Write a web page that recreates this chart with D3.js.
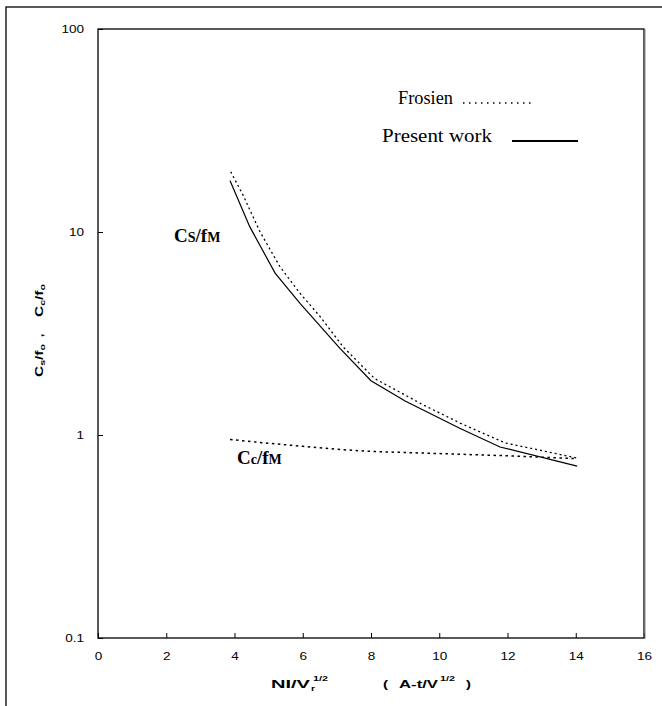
<!DOCTYPE html>
<html>
<head>
<meta charset="utf-8">
<script src="https://cdn.jsdelivr.net/npm/d3@7"></script>
<style>
  html, body { margin: 0; padding: 0; background: #fff; }
  svg { display: block; }
</style>
</head>
<body>
<svg id="chart" width="662" height="706"></svg>
<script>
// ---- data ----
const xTicks = [0, 2, 4, 6, 8, 10, 12, 14, 16];
const yTicks = [0.1, 1, 10, 100];
const yTickLabels = ["0.1", "1", "10", "100"];

// Present work, Cs/fM (solid)
const presentX = [3.87, 4.45, 5.19, 5.92, 7.09, 8.0, 9.0, 10.6, 11.78, 14.04];
const presentY = [17.9, 10.6, 6.27, 4.45, 2.67, 1.85, 1.47, 1.08, 0.873, 0.703];

// Frosien, Cs/fM (dotted)
const frosienSX = [3.89, 4.25, 4.75, 5.33, 5.92, 6.51, 7.18, 8.1, 9.52, 10.61, 11.93, 14.04];
const frosienSY = [19.8, 15.2, 10.0, 6.75, 4.99, 3.83, 2.72, 1.9, 1.41, 1.145, 0.914, 0.77];

// Frosien, Cc/fM (dotted)
const frosienCX = [3.87, 5.0, 6.0, 7.0, 8.0, 10.0, 12.0, 14.04];
const frosienCY = [0.95, 0.91, 0.88, 0.85, 0.83, 0.81, 0.79, 0.765];

const legendLabels = ["Frosien", "Present work"];

// ---- drawing ----
const svg = d3.select("#chart");
const L = 98, R = 644, T = 29, B = 638;
const STRETCH = 1.23;

const x = d3.scaleLinear().domain([0, 16]).range([L, R]);
const y = d3.scaleLog().domain([0.1, 100]).range([B, T]);

// outer frame (extends past the canvas on the right/bottom)
svg.append("rect").attr("x", 6).attr("y", 7).attr("width", 720).attr("height", 740)
  .attr("fill", "none").attr("stroke", "#000").attr("stroke-width", 1.3);

// axes
const xAxis = d3.axisBottom(x).tickValues(xTicks).tickFormat(d3.format("d"))
  .tickSizeInner(-5).tickSizeOuter(0).tickPadding(14);
const yAxis = d3.axisLeft(y).tickValues(yTicks)
  .tickFormat((d, i) => yTickLabels[i])
  .tickSizeInner(-5).tickSizeOuter(0).tickPadding(15);

const gx = svg.append("g").attr("transform", `translate(0,${B})`).call(xAxis);
const gy = svg.append("g").attr("transform", `translate(${L},0)`).call(yAxis);
[gx, gy].forEach(g => {
  g.select(".domain").remove();
  g.selectAll("text").attr("font-family", "Arial, 'Liberation Sans', sans-serif")
    .attr("font-size", 11).attr("fill", "#000")
    .attr("transform", `scale(${STRETCH},1)`);
  g.selectAll("line").attr("stroke", "#000").attr("stroke-width", 1);
});
gy.selectAll("text").attr("x", -14 / STRETCH);

// plot box
svg.append("rect").attr("x", L).attr("y", T).attr("width", R - L).attr("height", B - T)
  .attr("fill", "none").attr("stroke", "#000").attr("stroke-width", 1.3);
svg.append("line").attr("x1", R + 1).attr("x2", R + 1).attr("y1", T).attr("y2", B + 1)
  .attr("stroke", "#888").attr("stroke-width", 1);

// lines
const line = d3.line().x(d => x(d[0])).y(d => y(d[1]));
const zip = (a, b) => a.map((v, i) => [v, b[i]]);

svg.append("path").datum(zip(frosienSX, frosienSY)).attr("d", line)
  .attr("fill", "none").attr("stroke", "#000").attr("stroke-width", 1.3)
  .attr("stroke-dasharray", "2,3");
svg.append("path").datum(zip(frosienCX, frosienCY)).attr("d", line)
  .attr("fill", "none").attr("stroke", "#000").attr("stroke-width", 1.5)
  .attr("stroke-dasharray", "2.5,3.5");
svg.append("path").datum(zip(presentX, presentY)).attr("d", line)
  .attr("fill", "none").attr("stroke", "#000").attr("stroke-width", 1.2);

// legend
const serif = "'Times New Roman', 'Liberation Serif', serif";
svg.append("text").attr("x", 398).attr("y", 104).attr("font-family", serif)
  .attr("font-size", 19).attr("textLength", 55).attr("lengthAdjust", "spacingAndGlyphs")
  .text(legendLabels[0]);
svg.append("line").attr("x1", 463).attr("x2", 531).attr("y1", 103).attr("y2", 103)
  .attr("stroke", "#000").attr("stroke-width", 1.5).attr("stroke-dasharray", "1.5,4.5");
svg.append("text").attr("x", 382).attr("y", 142).attr("font-family", serif)
  .attr("font-size", 19).attr("textLength", 110).attr("lengthAdjust", "spacingAndGlyphs")
  .text(legendLabels[1]);
svg.append("line").attr("x1", 512).attr("x2", 578).attr("y1", 141).attr("y2", 141)
  .attr("stroke", "#000").attr("stroke-width", 2);

// curve labels
function subLabel(xp, yp, parts) {
  const t = svg.append("text").attr("x", xp).attr("y", yp)
    .attr("font-family", serif).attr("font-weight", "bold");
  parts.forEach(p => {
    t.append("tspan").attr("font-size", p.sub ? 14 : 19).text(p.t);
  });
  return t;
}
subLabel(174, 242, [{t: "C"}, {t: "S", sub: true}, {t: "/f"}, {t: "M", sub: true}]);
subLabel(237, 464, [{t: "C"}, {t: "c", sub: true}, {t: "/f"}, {t: "M", sub: true}]);

// axis titles
const sans = "Arial, 'Liberation Sans', sans-serif";
function piece(g, str, xp, yp, size, len) {
  g.append("text").attr("x", xp).attr("y", yp)
    .attr("font-family", sans).attr("font-weight", "bold").attr("font-size", size)
    .attr("textLength", len).attr("lengthAdjust", "spacingAndGlyphs").text(str);
}
const xg = svg.append("g");
piece(xg, "NI/V", 271, 688, 11.5, 39);
piece(xg, "r", 311, 691, 8, 4);
piece(xg, "1/2", 313, 681, 8, 15);
piece(xg, "(", 383, 688, 11.5, 5);
piece(xg, "A-t/V", 399, 688, 11.5, 39);
piece(xg, "1/2", 440, 681, 8, 15);
piece(xg, ")", 466, 688, 11.5, 5);

// rotated y title (local x = -screen y)
const yg = svg.append("g").attr("transform", "translate(43,0) rotate(-90)");
function term(g, xStart, sub1, sub2) {
  const t = g.append("text").attr("x", xStart).attr("y", 0)
    .attr("font-family", sans).attr("font-weight", "bold").attr("font-size", 11.5)
    .attr("textLength", 33).attr("lengthAdjust", "spacingAndGlyphs");
  t.append("tspan").text("C");
  t.append("tspan").attr("font-size", 8).attr("dy", 2).text(sub1);
  t.append("tspan").attr("dy", -2).text("/f");
  t.append("tspan").attr("font-size", 8).attr("dy", 2).text(sub2);
}
term(yg, -377, "s", "o");
yg.append("text").attr("x", -337).attr("y", 0)
  .attr("font-family", sans).attr("font-weight", "bold").attr("font-size", 11.5).text(",");
term(yg, -317, "c", "o");
</script>
</body>
</html>
